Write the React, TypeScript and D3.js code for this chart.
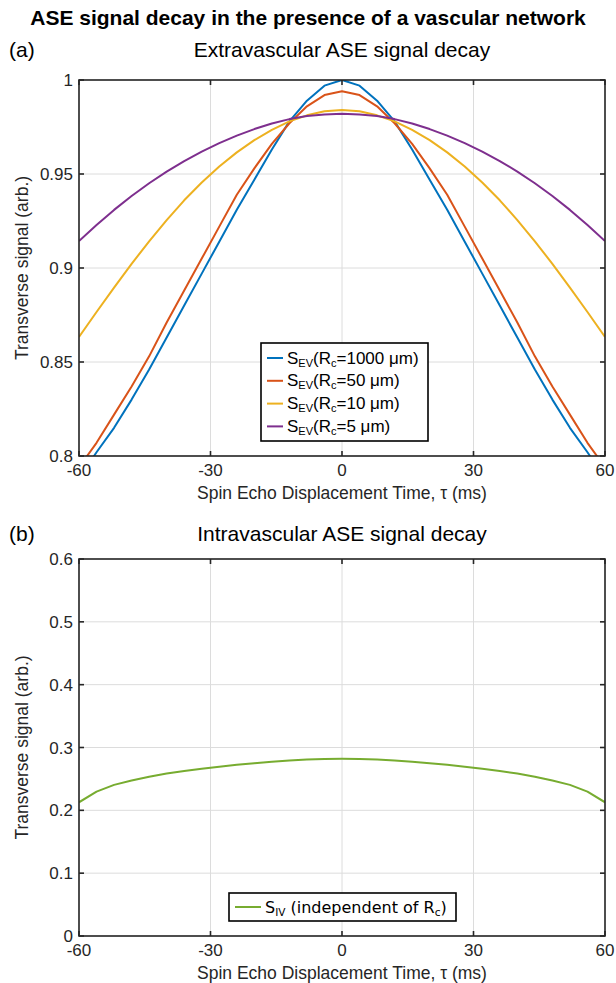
import React from "react";
import * as d3 from "d3";

// Spin echo displacement time (ms), sampled every 4 ms
const tau = [-60, -56, -52, -48, -44, -40, -36, -32, -28, -24, -20, -16, -12, -8, -4, 0, 4, 8, 12, 16, 20, 24, 28, 32, 36, 40, 44, 48, 52, 56, 60];

// Extravascular signal, one half (tau = 0..60), mirrored about tau = 0
const evR1000Half = [1.0, 0.997, 0.989, 0.978, 0.963, 0.947, 0.931, 0.914, 0.897, 0.88, 0.863, 0.846, 0.83, 0.815, 0.802, 0.788];
const evR50Half = [0.994, 0.992, 0.986, 0.977, 0.966, 0.953, 0.939, 0.922, 0.905, 0.888, 0.871, 0.853, 0.837, 0.822, 0.807, 0.794];
const evR10Half = [0.984, 0.9834, 0.9812, 0.978, 0.9735, 0.968, 0.9615, 0.954, 0.9455, 0.936, 0.9255, 0.9142, 0.9022, 0.8896, 0.8766, 0.8633];
const evR5Half = [0.982, 0.9817, 0.9808, 0.9792, 0.9769, 0.9739, 0.9704, 0.9664, 0.9619, 0.9569, 0.9513, 0.9451, 0.9383, 0.9309, 0.9229, 0.9143];
// Intravascular signal, one half (tau = 0..60)
const ivHalf = [0.282, 0.2817, 0.281, 0.2795, 0.2775, 0.275, 0.2725, 0.2695, 0.266, 0.2625, 0.2585, 0.2535, 0.2475, 0.2405, 0.2298, 0.2128];

const mirror = (half: number[]) => [...half.slice(1).reverse(), ...half];

const xTicks = [-60, -30, 0, 30, 60];
const yTicksEV = [0.8, 0.85, 0.9, 0.95, 1];
const yTickLabelsEV = ["0.8", "0.85", "0.9", "0.95", "1"];
const yTicksIV = [0, 0.1, 0.2, 0.3, 0.4, 0.5, 0.6];
const yTickLabelsIV = ["0", "0.1", "0.2", "0.3", "0.4", "0.5", "0.6"];

const evSeries = [
  { rc: "1000", values: mirror(evR1000Half), color: "#0072BD" },
  { rc: "50", values: mirror(evR50Half), color: "#D95319" },
  { rc: "10", values: mirror(evR10Half), color: "#EDB120" },
  { rc: "5", values: mirror(evR5Half), color: "#7E2F8E" },
];
const ivValues = mirror(ivHalf);
const ivColor = "#77AC30";

const FONT = "'Liberation Sans', Arial, Helvetica, sans-serif";
const AX = "#262626";
const GRID = "#dcdcdc";

const W = 616;
const H = 983;
const left = 79;
const right = 605;
const TICK_FS = 17;
const LABEL_FS = 17.5;
const TITLE_FS = 21;

type PanelProps = {
  top: number;
  height: number;
  domain: [number, number];
  yTicks: number[];
  yLabels: string[];
  children: (x: d3.ScaleLinear<number, number>, y: d3.ScaleLinear<number, number>) => React.ReactNode;
};

function Panel({ top, height, domain, yTicks, yLabels, children }: PanelProps) {
  const x = d3.scaleLinear().domain([-60, 60]).range([left, right]);
  const y = d3.scaleLinear().domain(domain).range([top + height, top]);
  const bottom = top + height;
  const tl = 5;
  const clipId = `clip-${top}`;
  return (
    <g>
      <defs>
        <clipPath id={clipId}>
          <rect x={left} y={top} width={right - left} height={height} />
        </clipPath>
      </defs>
      {xTicks.map((t) => (
        <line key={`gx${t}`} x1={x(t)} x2={x(t)} y1={top} y2={bottom} stroke={GRID} strokeWidth={1} />
      ))}
      {yTicks.map((t) => (
        <line key={`gy${t}`} x1={left} x2={right} y1={y(t)} y2={y(t)} stroke={GRID} strokeWidth={1} />
      ))}
      <g clipPath={`url(#${clipId})`}>{children(x, y)}</g>
      <rect x={left} y={top} width={right - left} height={height} fill="none" stroke={AX} strokeWidth={1.6} />
      {xTicks.map((t) => (
        <g key={`tx${t}`}>
          <line x1={x(t)} x2={x(t)} y1={bottom} y2={bottom - tl} stroke={AX} strokeWidth={1.6} />
          <line x1={x(t)} x2={x(t)} y1={top} y2={top + tl} stroke={AX} strokeWidth={1.6} />
          <text x={x(t)} y={bottom + 20} textAnchor="middle" fontFamily={FONT} fontSize={TICK_FS} fill={AX}>
            {t}
          </text>
        </g>
      ))}
      {yTicks.map((t, i) => (
        <g key={`ty${t}`}>
          <line x1={left} x2={left + tl} y1={y(t)} y2={y(t)} stroke={AX} strokeWidth={1.6} />
          <line x1={right} x2={right - tl} y1={y(t)} y2={y(t)} stroke={AX} strokeWidth={1.6} />
          <text x={left - 6} y={y(t) + 6} textAnchor="end" fontFamily={FONT} fontSize={TICK_FS} fill={AX}>
            {yLabels[i]}
          </text>
        </g>
      ))}
      <text x={(left + right) / 2} y={bottom + 43} textAnchor="middle" fontFamily={FONT} fontSize={LABEL_FS} fill={AX}>
        Spin Echo Displacement Time, τ (ms)
      </text>
      <text
        transform={`translate(28, ${(top + bottom) / 2}) rotate(-90)`}
        textAnchor="middle"
        fontFamily={FONT}
        fontSize={LABEL_FS}
        fill={AX}
      >
        Transverse signal (arb.)
      </text>
    </g>
  );
}

export default function App() {
  const topA = 80;
  const hA = 376;
  const topB = 559;
  const hB = 377;

  return (
    <svg width={W} height={H} style={{ display: "block", position: "absolute", left: 0, top: 0, background: "#fff" }}>
      <rect width={W} height={H} fill="#fff" />
      <text x={308} y={25} textAnchor="middle" fontFamily={FONT} fontSize={TITLE_FS} fontWeight="bold" fill="#000">
        ASE signal decay in the presence of a vascular network
      </text>

      <text x={9} y={57} fontFamily={FONT} fontSize={TITLE_FS} fill="#000">(a)</text>
      <text x={(left + right) / 2} y={57} textAnchor="middle" fontFamily={FONT} fontSize={TITLE_FS} fill="#000">
        Extravascular ASE signal decay
      </text>
      <Panel top={topA} height={hA} domain={[0.8, 1]} yTicks={yTicksEV} yLabels={yTickLabelsEV}>
        {(x, y) => {
          const line = d3
            .line<number>()
            .x((_, i) => x(tau[i]))
            .y((d) => y(d));
          return evSeries.map((s) => (
            <path key={s.rc} d={line(s.values) || ""} fill="none" stroke={s.color} strokeWidth={2} strokeLinejoin="round" />
          ));
        }}
      </Panel>
      {/* legend for extravascular curves, placed inside the axes at the bottom */}
      <g>
        <rect x={261} y={343} width={167} height={98} fill="#fff" stroke="#000" strokeWidth={1.6} />
        {evSeries.map((s, i) => {
          const cy = 358 + i * 22.8;
          return (
            <g key={`lg${s.rc}`}>
              <line x1={267} x2={283} y1={cy} y2={cy} stroke={s.color} strokeWidth={2} />
              <text x={287} y={cy + 5.5} fontFamily={FONT} fontSize={17} fill="#000">
                S<tspan fontSize={11} dy={3}>EV</tspan>
                <tspan dy={-3}>(R</tspan>
                <tspan fontSize={11} dy={3}>c</tspan>
                <tspan dy={-3}>={s.rc} μm)</tspan>
              </text>
            </g>
          );
        })}
      </g>

      <text x={9} y={541} fontFamily={FONT} fontSize={TITLE_FS} fill="#000">(b)</text>
      <text x={(left + right) / 2} y={541} textAnchor="middle" fontFamily={FONT} fontSize={TITLE_FS} fill="#000">
        Intravascular ASE signal decay
      </text>
      <Panel top={topB} height={hB} domain={[0, 0.6]} yTicks={yTicksIV} yLabels={yTickLabelsIV}>
        {(x, y) => {
          const line = d3
            .line<number>()
            .x((_, i) => x(tau[i]))
            .y((d) => y(d));
          return <path d={line(ivValues) || ""} fill="none" stroke={ivColor} strokeWidth={2} strokeLinejoin="round" />;
        }}
      </Panel>
      {/* legend for intravascular curve */}
      <g>
        <rect x={229} y={893} width={227} height={28} fill="#fff" stroke="#000" strokeWidth={1.6} />
        <line x1={235} x2={261} y1={907} y2={907} stroke={ivColor} strokeWidth={2} />
        <text x={265} y={912.5} fontFamily="'DejaVu Sans', sans-serif" fontSize={16} fill="#000">
          S<tspan fontSize={10.5} dy={3}>IV</tspan>
          <tspan dy={-3}> (independent of R</tspan>
          <tspan fontSize={10.5} dy={3}>c</tspan>
          <tspan dy={-3}>)</tspan>
        </text>
      </g>
    </svg>
  );
}
